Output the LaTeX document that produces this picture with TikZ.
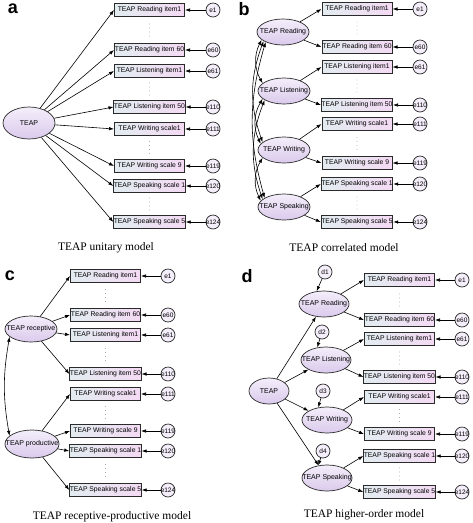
\documentclass[tikz,border=0pt]{standalone}
\usepackage{fontspec}
\setmainfont{Liberation Serif}
\setsansfont{Liberation Sans}
\usetikzlibrary{arrows.meta,shapes.geometric}
\definecolor{boxL}{HTML}{E2ECF0}
\definecolor{boxR}{HTML}{F4DAF4}
\definecolor{ellA}{HTML}{F4EEFA}
\definecolor{ellB}{HTML}{DACAEC}
\definecolor{edgec}{HTML}{2A2A2A}
\tikzset{
  obs/.style={draw=edgec, line width=1pt, left color=boxL, right color=boxR,
    minimum width=70pt, minimum height=13pt, inner sep=0pt,
    font=\sffamily\fontsize{6.8}{7}\selectfont},
  lattext/.style={font=\sffamily\fontsize{7}{7}\selectfont, inner sep=0pt},
  lat/.style={ellipse, draw=edgec, line width=0.7pt, top color=ellA, bottom color=ellB,
    inner sep=0pt, minimum width=52pt, minimum height=26pt, label={[lattext]center:#1}},
  errtext/.style={font=\sffamily\fontsize{6.5}{7}\selectfont, inner sep=0pt},
  err/.style={circle, draw=edgec, line width=0.7pt, fill=ellA, minimum size=14pt,
    inner sep=0pt, label={[errtext]center:#1}},
  arr/.style={-{Latex[length=5pt,width=3.5pt]}, line width=0.6pt},
  dbl/.style={{Latex[length=5pt,width=3.5pt]}-{Latex[length=5pt,width=3.5pt]}, line width=0.6pt},
  plabel/.style={font=\sffamily\bfseries\fontsize{18}{18}\selectfont, inner sep=0pt},
  captxt/.style={font=\fontsize{11.5}{12}\selectfont, inner sep=0pt},
  dotmark/.style={fill=gray},
}
\newcommand\gapdots[3]{%
  \foreach \k in {-6,-2,2,6}{\fill[dotmark] (#1,{(#2+#3)/2+\k}) circle (0.45pt);}}
\begin{document}
\begin{tikzpicture}[x=1pt,y=-1pt]
\useasboundingbox (0,0) rectangle (473,523);

% ---------------- panel a ----------------
\node[plabel] (la) at (13,9) {a};
\node[lat=TEAP, minimum width=52pt, minimum height=32pt] (aT) at (29,123) {};
\foreach \n/\y/\t/\e in {1/10/TEAP Reading item1/e1, 2/50/TEAP Reading item 60/e60,
   3/71/TEAP Listening item1/e61, 4/107/TEAP Listening item 50/e110,
   5/129/TEAP Writing scale1/e111, 6/166/TEAP Writing scale 9/e119,
   7/186/TEAP Speaking scale 1/e120, 8/222/TEAP Speaking scale 5/e124}{
  \node[obs] (a\n) at (149.5,\y) {\t};
  \node[err=\e] (ae\n) at (213,\y) {};
  \draw[arr] (ae\n) -- (a\n);
  \draw[arr] (aT) -- (a\n.west);
}
\gapdots{149.5}{10}{50}
\gapdots{149.5}{71}{107}
\gapdots{149.5}{129}{166}
\gapdots{149.5}{186}{222}
\node[captxt] (ca) at (106,248) {TEAP unitary model};

% ---------------- panel b ----------------
\node[plabel] (lb) at (244,9) {b};
\node[lat=TEAP Reading] (bR) at (283,32) {};
\node[lat=TEAP Listening] (bL) at (284,91) {};
\node[lat=TEAP Writing] (bW) at (284,150) {};
\node[lat=TEAP Speaking] (bS) at (284,207) {};
\foreach \n/\y/\t/\e/\f in {1/9/TEAP Reading item1/e1/bR, 2/47/TEAP Reading item 60/e60/bR,
   3/67/TEAP Listening item1/e61/bL, 4/105/TEAP Listening item 50/e110/bL,
   5/124/TEAP Writing scale1/e111/bW, 6/163/TEAP Writing scale 9/e119/bW,
   7/184/TEAP Speaking scale 1/e120/bS, 8/222/TEAP Speaking scale 5/e124/bS}{
  \node[obs] (b\n) at (357,\y) {\t};
  \node[err=\e] (be\n) at (420,\y) {};
  \draw[arr] (be\n) -- (b\n);
  \draw[arr] (\f) -- (b\n.west);
}
\gapdots{357}{9}{47}
\gapdots{357}{67}{105}
\gapdots{357}{124}{163}
\gapdots{357}{184}{222}
\draw[dbl] (bR.200) to[bend right=28] (bL.160);
\draw[dbl] (bR.205) to[bend right=20] (bW.160);
\draw[dbl] (bR.210) to[bend right=16] (bS.155);
\draw[dbl] (bL.200) to[bend right=28] (bW.165);
\draw[dbl] (bL.205) to[bend right=20] (bS.160);
\draw[dbl] (bW.200) to[bend right=28] (bS.165);
\node[captxt] (cb) at (344,248) {TEAP correlated model};

% ---------------- panel c ----------------
\node[plabel] (lc) at (10,276) {c};
\node[lat=TEAP receptive] (cR) at (31,329) {};
\node[lat=TEAP productive, minimum width=54pt, minimum height=28pt] (cP) at (32,444) {};
\foreach \n/\y/\t/\e/\f in {1/276/TEAP Reading item1/e1/cR, 2/315/TEAP Reading item 60/e60/cR,
   3/335/TEAP Listening item1/e61/cR, 4/374/TEAP Listening item 50/e110/cR,
   5/394/TEAP Writing scale1/e111/cP, 6/431/TEAP Writing scale 9/e119/cP,
   7/451/TEAP Speaking scale 1/e120/cP, 8/490/TEAP Speaking scale 5/e124/cP}{
  \node[obs] (c\n) at (105.5,\y) {\t};
  \node[err=\e] (ce\n) at (168,\y) {};
  \draw[arr] (ce\n) -- (c\n);
  \draw[arr] (\f) -- (c\n.west);
}
\gapdots{105.5}{276}{315}
\gapdots{105.5}{335}{374}
\gapdots{105.5}{394}{431}
\gapdots{105.5}{451}{490}
\draw[dbl] (cR.200) to[bend right=10] (cP.160);
\node[captxt] (cc) at (112,517) {TEAP receptive-productive model};

% ---------------- panel d ----------------
\node[plabel] (ld) at (247,276) {d};
\node[lat=TEAP, minimum width=40pt, minimum height=26pt] (dT) at (269,391) {};
\node[lat=TEAP Reading, minimum width=50pt] (dR) at (324,304) {};
\node[lat=TEAP Listening, minimum width=50pt] (dL) at (326,360) {};
\node[lat=TEAP Writing, minimum width=50pt] (dW) at (327,420) {};
\node[lat=TEAP Speaking, minimum width=50pt] (dS) at (327,478) {};
\node[err=d1] (dd1) at (325,272) {};
\node[err=d2] (dd2) at (322,332) {};
\node[err=d3] (dd3) at (323,391) {};
\node[err=d4] (dd4) at (323,451) {};
\draw[arr] (dd1) -- (dR.120);
\draw[arr] (dd2) -- (dL.125);
\draw[arr] (dd3) -- (dW.125);
\draw[arr] (dd4) -- (dS.125);
\draw[arr] (dT) -- (dR);
\draw[arr] (dT) -- (dL);
\draw[arr] (dT) -- (dW);
\draw[arr] (dT) -- (dS);
\foreach \n/\y/\t/\e/\f in {1/280/TEAP Reading item1/e1/dR, 2/320/TEAP Reading item 60/e60/dR,
   3/339/TEAP Listening item1/e61/dL, 4/377/TEAP Listening item 50/e110/dL,
   5/397/TEAP Writing scale1/e111/dW, 6/434/TEAP Writing scale 9/e119/dW,
   7/456/TEAP Speaking scale 1/e120/dS, 8/492/TEAP Speaking scale 5/e124/dS}{
  \node[obs] (d\n) at (399.5,\y) {\t};
  \node[err=\e] (de\n) at (462,\y) {};
  \draw[arr] (de\n) -- (d\n);
  \draw[arr] (\f) -- (d\n.west);
}
\gapdots{399.5}{280}{320}
\gapdots{399.5}{339}{377}
\gapdots{399.5}{397}{434}
\gapdots{399.5}{456}{492}
\node[captxt] (cd) at (364,515) {TEAP higher-order model};
\end{tikzpicture}
\end{document}
